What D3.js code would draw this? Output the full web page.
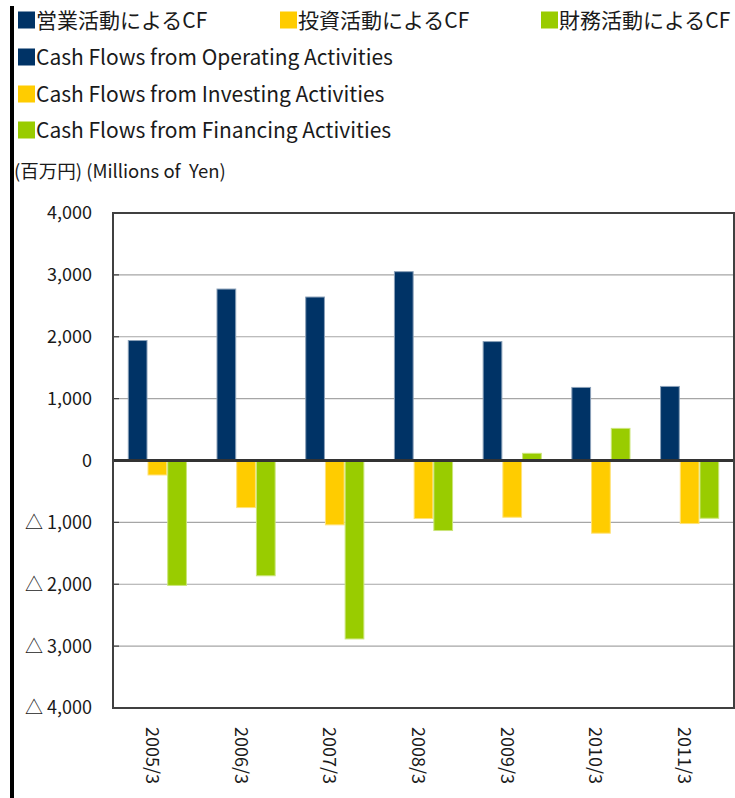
<!DOCTYPE html>
<html>
<head>
<meta charset="utf-8">
<script src="https://cdn.jsdelivr.net/npm/d3@7"></script>
<style>
  body { margin: 0; background: #fff; }
  svg { display: block; font-family: "Noto Sans CJK JP", "Noto Sans", sans-serif; }
</style>
</head>
<body>
<svg id="chart" width="735" height="798"></svg>
<script>
// data (millions of yen)
const years = ["2005/3", "2006/3", "2007/3", "2008/3", "2009/3", "2010/3", "2011/3"];
const operating = [1947, 2779, 2650, 3060, 1930, 1189, 1205];
const investing = [-242, -769, -1048, -946, -925, -1183, -1027];
const financing = [-2027, -1871, -2892, -1140, 124, 527, -941];
const yTicks = [4000, 3000, 2000, 1000, 0, -1000, -2000, -3000, -4000];

const seriesNames = ["operating", "investing", "financing"];
const colors = { operating: "#003366", investing: "#ffcc00", financing: "#99cc00" };
const edges = { operating: "#8aa0b8", investing: "#ffe27a", financing: "#cbe57a" };

const svg = d3.select("#chart");

// black bar down the left edge
svg.append("rect").attr("x", 10).attr("y", 6).attr("width", 4).attr("height", 792).attr("fill", "#000");

// legend
const legendRows = [
  { x: 17, y: 20, text: "営業活動によるCF", key: "operating" },
  { x: 279, y: 20, text: "投資活動によるCF", key: "investing" },
  { x: 540, y: 20, text: "財務活動によるCF", key: "financing" },
  { x: 17, y: 57, text: "Cash Flows from Operating Activities", key: "operating" },
  { x: 17, y: 94, text: "Cash Flows from Investing Activities", key: "investing" },
  { x: 17, y: 130, text: "Cash Flows from Financing Activities", key: "financing" }
];
const leg = svg.append("g").selectAll("g").data(legendRows).enter().append("g")
  .attr("transform", d => `translate(${d.x},${d.y})`);
leg.append("rect").attr("x", 1).attr("y", -8.5).attr("width", 17).attr("height", 17)
  .attr("fill", d => colors[d.key]);
leg.append("text").attr("x", 19).attr("dy", "0.36em")
  .style("font-size", "21px").attr("fill", "#1a1a1a").text(d => d.text);

// unit label
svg.append("text").attr("x", 14).attr("y", 171).attr("dy", "0.36em")
  .style("font-size", "18.5px").style("white-space", "pre").attr("fill", "#1a1a1a")
  .text("(百万円) (Millions of  Yen)");

const plotL = 113, plotR = 734, plotT = 213, plotB = 708;

const y = d3.scaleLinear().domain([-4000, 4000]).range([plotB, plotT]);
const x0 = d3.scaleBand().domain(years).range([plotL, plotR]);
const bw = x0.bandwidth() / 4.5;
const x1 = d3.scaleBand().domain(seriesNames)
  .range([bw * 0.75, bw * 3.75]);

// gridlines
svg.append("g").selectAll("line").data(yTicks.filter(v => v !== 0 && v !== 4000 && v !== -4000)).enter()
  .append("line")
  .attr("x1", plotL).attr("x2", plotR)
  .attr("y1", d => y(d)).attr("y2", d => y(d))
  .attr("stroke", "#a6a6a6").attr("stroke-width", 1.2);

// tick marks inside the left axis
svg.append("g").selectAll("line").data(yTicks).enter().append("line")
  .attr("x1", plotL).attr("x2", plotL + 6)
  .attr("y1", d => y(d)).attr("y2", d => y(d))
  .attr("stroke", "#404040").attr("stroke-width", 1.2);

// y tick labels
const fmt = d3.format(",");
svg.append("g").selectAll("text").data(yTicks).enter().append("text")
  .attr("x", 92).attr("y", d => y(d)).attr("dy", "0.36em")
  .attr("text-anchor", "end").style("font-size", "18px").attr("fill", "#1a1a1a")
  .text(d => d < 0 ? "△ " + fmt(-d) : fmt(d));

// bars
const rows = years.map((yr, i) => ({ year: yr, operating: operating[i], investing: investing[i], financing: financing[i] }));
const groups = svg.append("g").selectAll("g").data(rows).enter().append("g")
  .attr("transform", d => `translate(${x0(d.year)},0)`);
groups.selectAll("rect")
  .data(d => seriesNames.map(k => ({ key: k, value: d[k] })))
  .enter().append("rect")
  .attr("x", d => x1(d.key) + 0.5)
  .attr("width", x1.bandwidth() - 1)
  .attr("y", d => y(Math.max(0, d.value)) + 0.5)
  .attr("height", d => Math.max(0, Math.abs(y(d.value) - y(0)) - 1))
  .attr("fill", d => colors[d.key])
  .attr("stroke", d => edges[d.key]).attr("stroke-width", 1);

// zero line
svg.append("line").attr("x1", plotL).attr("x2", plotR).attr("y1", y(0)).attr("y2", y(0))
  .attr("stroke", "#333").attr("stroke-width", 3);

// frame
svg.append("rect").attr("x", plotL).attr("y", plotT).attr("width", plotR - plotL).attr("height", plotB - plotT)
  .attr("fill", "none").attr("stroke", "#404040").attr("stroke-width", 2);

// x labels, rotated
svg.append("g").selectAll("text").data(years).enter().append("text")
  .attr("transform", d => `translate(${x0(d) + x0.bandwidth() / 2 - 5},727) rotate(90)`)
  .attr("dy", "0.36em").style("font-size", "18px").attr("fill", "#1a1a1a")
  .text(d => d);
</script>
</body>
</html>
